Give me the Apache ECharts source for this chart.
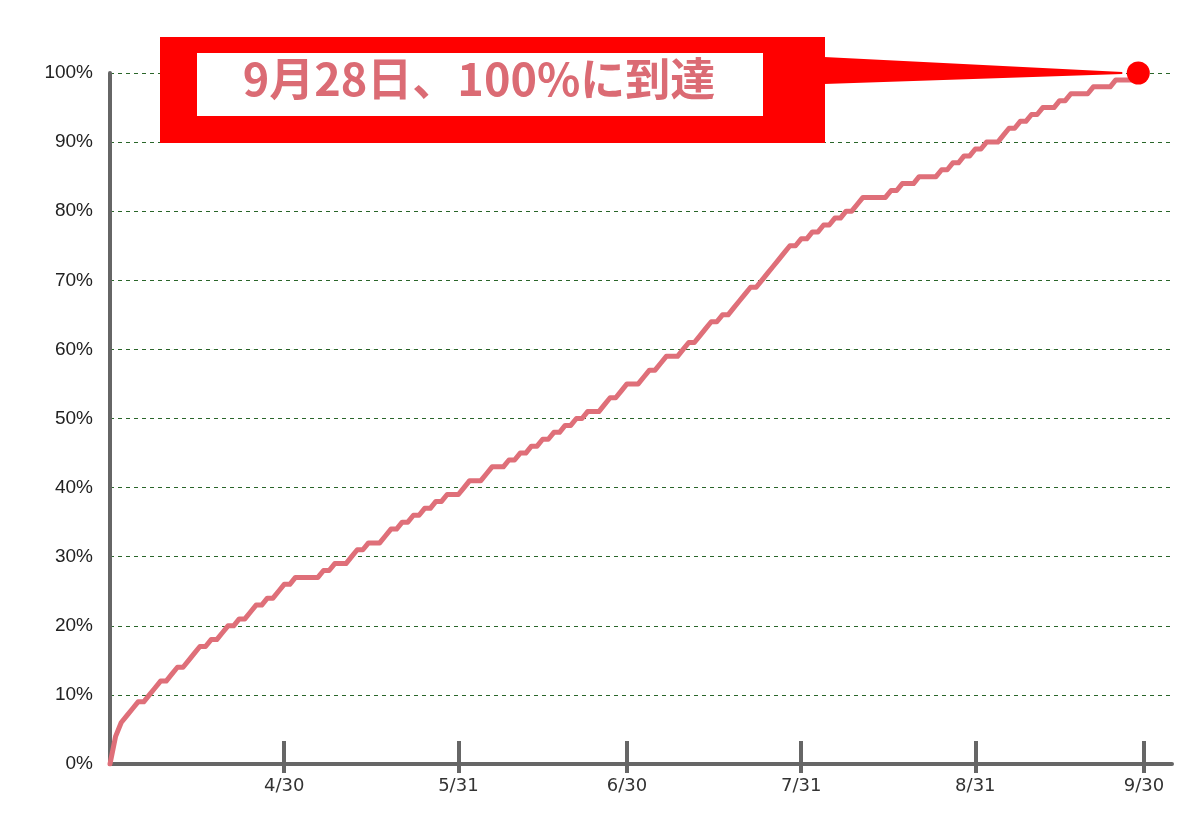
<!DOCTYPE html>
<html>
<head>
<meta charset="utf-8">
<script src="https://cdn.jsdelivr.net/npm/echarts@6/dist/echarts.min.js"></script>
<style>
html, body { margin: 0; padding: 0; background: #fff; }
#progress-chart { width: 1200px; height: 826px; }
</style>
</head>
<body>
<div id="progress-chart"></div>
<script>
// cumulative progress (%) per day, day 0 = 3/30
var progressValues = [
    0, 4, 6, 7, 8, 9, 9, 10, 11, 12,
    12, 13, 14, 14, 15, 16, 17, 17, 18, 18,
    19, 20, 20, 21, 21, 22, 23, 23, 24, 24,
    25, 26, 26, 27, 27, 27, 27, 27, 28, 28,
    29, 29, 29, 30, 31, 31, 32, 32, 32, 33,
    34, 34, 35, 35, 36, 36, 37, 37, 38, 38,
    39, 39, 39, 40, 41, 41, 41, 42, 43, 43,
    43, 44, 44, 45, 45, 46, 46, 47, 47, 48,
    48, 49, 49, 50, 50, 51, 51, 51, 52, 53,
    53, 54, 55, 55, 55, 56, 57, 57, 58, 59,
    59, 59, 60, 61, 61, 62, 63, 64, 64, 65,
    65, 66, 67, 68, 69, 69, 70, 71, 72, 73,
    74, 75, 75, 76, 76, 77, 77, 78, 78, 79,
    79, 80, 80, 81, 82, 82, 82, 82, 82, 83,
    83, 84, 84, 84, 85, 85, 85, 85, 86, 86,
    87, 87, 88, 88, 89, 89, 90, 90, 90, 91,
    92, 92, 93, 93, 94, 94, 95, 95, 95, 96,
    96, 97, 97, 97, 97, 98, 98, 98, 98, 99,
    99, 99, 99, 100
];
var tickDays = [31, 62, 92, 123, 154, 184];
var tickLabels = ['4/30', '5/31', '6/30', '7/31', '8/31', '9/30'];
var yTicks = [0, 10, 20, 30, 40, 50, 60, 70, 80, 90, 100];
var calloutText = '9月28日、100%に到達';

var progressChart = echarts.init(document.getElementById('progress-chart'));

var lineData = progressValues.map(function(v, i) { return [i, v]; });
var lastPoint = lineData[lineData.length - 1];

progressChart.setOption({
    animation: false,
    backgroundColor: '#fff',
    grid: {
        left: 110,
        right: 28,
        top: 73,
        bottom: 62
    },
    xAxis: [{
        type: 'value',
        min: 0,
        max: 189,
        axisLine: {
            lineStyle: { color: '#666', width: 4 }
        },
        axisTick: {
            inside: true,
            length: 23,
            customValues: tickDays,
            lineStyle: { color: '#666', width: 4 }
        },
        axisLabel: {
            customValues: tickDays,
            margin: 13,
            fontSize: 18,
            color: '#333',
            fontFamily: 'DejaVu Sans',
            formatter: function(v) {
                var idx = tickDays.indexOf(v);
                return idx >= 0 ? tickLabels[idx] : '';
            }
        },
        splitLine: { show: false }
    }, {
        type: 'value',
        position: 'bottom',
        min: 0,
        max: 189,
        axisLine: { show: false },
        axisTick: {
            length: 9,
            customValues: tickDays,
            lineStyle: { color: '#666', width: 4 }
        },
        axisLabel: { show: false },
        splitLine: { show: false }
    }],
    yAxis: {
        type: 'value',
        min: 0,
        max: 100,
        interval: 10,
        axisLine: {
            show: true,
            lineStyle: { color: '#666', width: 4 }
        },
        axisTick: { show: false },
        axisLabel: {
            margin: 17,
            fontSize: 19,
            color: '#222',
            fontFamily: 'Liberation Sans',
            formatter: function(v) {
                return yTicks.indexOf(v) >= 0 ? v + '%' : '';
            }
        },
        splitLine: {
            lineStyle: { color: '#2a662a', width: 1, type: [4, 4] }
        }
    },
    series: [{
        name: 'progress',
        type: 'line',
        data: lineData,
        showSymbol: false,
        symbol: 'none',
        lineStyle: {
            color: '#df6f79',
            width: 5,
            cap: 'round',
            join: 'round'
        },
        z: 3
    }, {
        name: 'reached',
        type: 'scatter',
        data: [lastPoint],
        symbolSize: 23,
        itemStyle: { color: '#ff0000', opacity: 1 },
        z: 6
    }]
});

// callout box with a wedge pointing at the final point
var tip = progressChart.convertToPixel({ seriesIndex: 1 }, lastPoint);
progressChart.setOption({
    graphic: [{
        type: 'polygon',
        shape: {
            points: [[824, 57], [tip[0] - 16, tip[1] - 1], [tip[0] - 16, tip[1] + 1], [824, 84]]
        },
        style: { fill: '#ff0000' },
        z: 100
    }, {
        type: 'rect',
        shape: { x: 160, y: 37, width: 665, height: 106 },
        style: { fill: '#ff0000' },
        z: 101
    }, {
        type: 'rect',
        shape: { x: 197, y: 53, width: 566, height: 63 },
        style: { fill: '#ffffff' },
        z: 102
    }, {
        type: 'text',
        x: 479,
        y: 79,
        style: {
            text: calloutText,
            fill: '#db6b74',
            font: 'bold 45px "Noto Sans CJK JP"',
            align: 'center',
            verticalAlign: 'middle'
        },
        z: 103
    }]
});
</script>
</body>
</html>
